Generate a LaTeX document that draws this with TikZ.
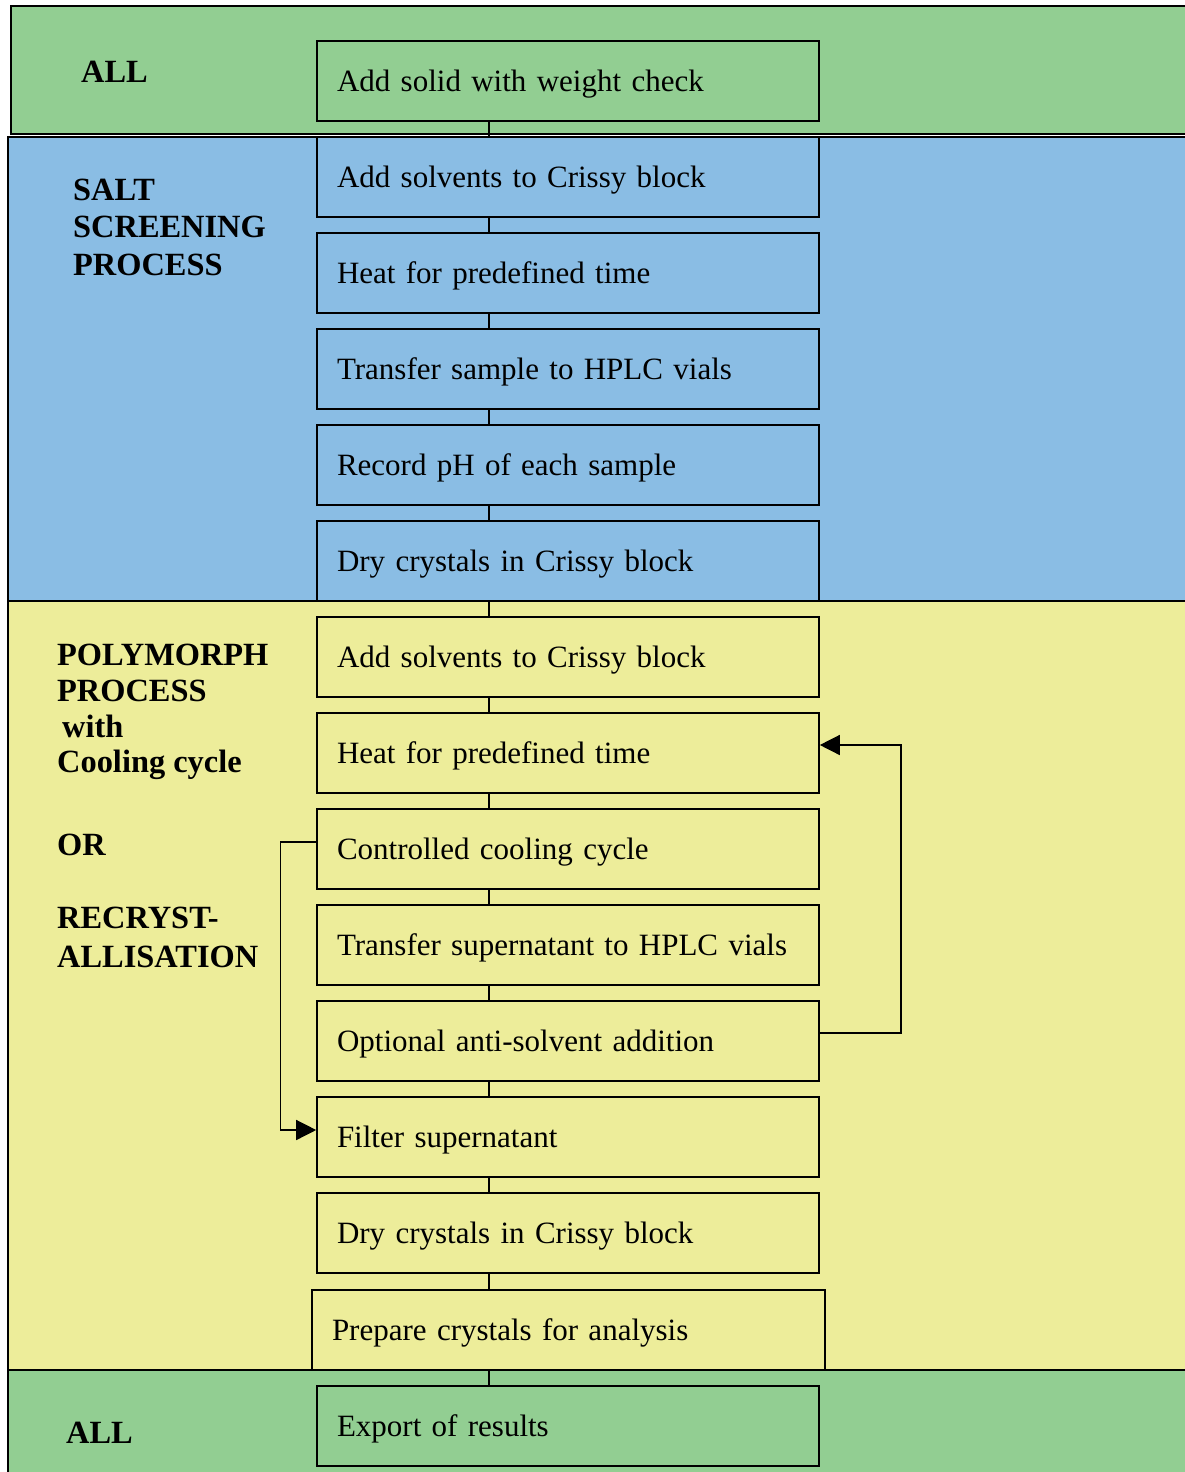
\documentclass[tikz,border=0pt]{standalone}
\usepackage{fontspec}
\setmainfont{Liberation Serif}
\usetikzlibrary{arrows.meta}
\definecolor{bandgreen}{RGB}{146,206,146}
\definecolor{bandblue}{RGB}{138,189,228}
\definecolor{bandyellow}{RGB}{237,237,154}
\begin{document}
\begin{tikzpicture}[x=1pt,y=-1pt,
  band/.style={draw=black, line width=1.4pt},
  stepbox/.style={draw, line width=1.6pt, minimum height=80pt, text width=462pt,
    inner xsep=20pt, inner ysep=0pt, align=left, text height=24pt, text depth=4pt,
    font=\fontsize{31}{37}\selectfont},
  widebox/.style={stepbox, text width=473pt},
  lbl/.style={anchor=base west, inner sep=0pt, font=\bfseries\fontsize{32.4}{37}\selectfont},
  link/.style={line width=1.4pt},
  fb/.style={line width=1.4pt, -{Triangle[length=20pt,width=20pt]}}]
\useasboundingbox (0,0) rectangle (1184,1472);
% bands
\fill[white] (0,0) rectangle (1184,1472);
\filldraw[band, fill=bandgreen] (1190,6) -- (11,6) -- (11,134) -- (1190,134);
\filldraw[band, fill=bandblue] (1190,137) -- (8,137) -- (8,601) -- (1190,601);
\filldraw[band, fill=bandyellow] (1190,601) -- (8,601) -- (8,1370) -- (1190,1370);
\filldraw[band, fill=bandgreen] (1190,1370) -- (8,1370) -- (8,1480) -- (1190,1480);
% labels
\node[lbl] (lall1) at (81,82) {ALL};
\node[lbl] (ls1) at (73,200) {SALT};
\node[lbl] (ls2) at (73,237) {SCREENING};
\node[lbl] (ls3) at (73,275) {PROCESS};
\node[lbl] (lp1) at (57,665) {POLYMORPH};
\node[lbl] (lp2) at (57,701) {PROCESS};
\node[lbl] (lp3) at (62,737) {with};
\node[lbl] (lp4) at (57,772) {Cooling cycle};
\node[lbl] (lor) at (57,855) {OR};
\node[lbl] (lr1) at (57,928) {RECRYST-};
\node[lbl] (lr2) at (57,967) {ALLISATION};
\node[lbl] (lall2) at (66,1443) {ALL};
% boxes
\node[stepbox] (b1) at (568,81) {Add solid with weight check};
\node[stepbox] (b2) at (568,177) {Add solvents to Crissy block};
\node[stepbox] (b3) at (568,273) {Heat for predefined time};
\node[stepbox] (b4) at (568,369) {Transfer sample to HPLC vials};
\node[stepbox] (b5) at (568,465) {Record pH of each sample};
\node[stepbox] (b6) at (568,561) {Dry crystals in Crissy block};
\node[stepbox] (b7) at (568,657) {Add solvents to Crissy block};
\node[stepbox] (b8) at (568,753) {Heat for predefined time};
\node[stepbox] (b9) at (568,849) {Controlled cooling cycle};
\node[stepbox] (b10) at (568,945) {Transfer supernatant to HPLC vials};
\node[stepbox] (b11) at (568,1041) {Optional anti-solvent addition};
\node[stepbox] (b12) at (568,1137) {Filter supernatant};
\node[stepbox] (b13) at (568,1233) {Dry crystals in Crissy block};
\node[widebox] (b14) at (568.5,1330) {Prepare crystals for analysis};
\node[stepbox] (b15) at (568,1426) {Export of results};
% connectors
\coordinate (spine) at (489,0);
\foreach \a/\b in {b1/b2,b2/b3,b3/b4,b4/b5,b5/b6,b6/b7,b7/b8,b8/b9,b9/b10,b10/b11,b11/b12,b12/b13,b13/b14,b14/b15}
  \draw[link] (\a.south -| spine) -- (\b.north -| spine);
% feedback arrows
\draw[fb] ([yshift=8pt]b11.east) -- ++(81,0) |- ([yshift=8pt]b8.east);
\draw[fb] ([yshift=7pt]b9.west) -- ++(-36,0) |- ([yshift=7pt]b12.west);
\end{tikzpicture}
\end{document}
